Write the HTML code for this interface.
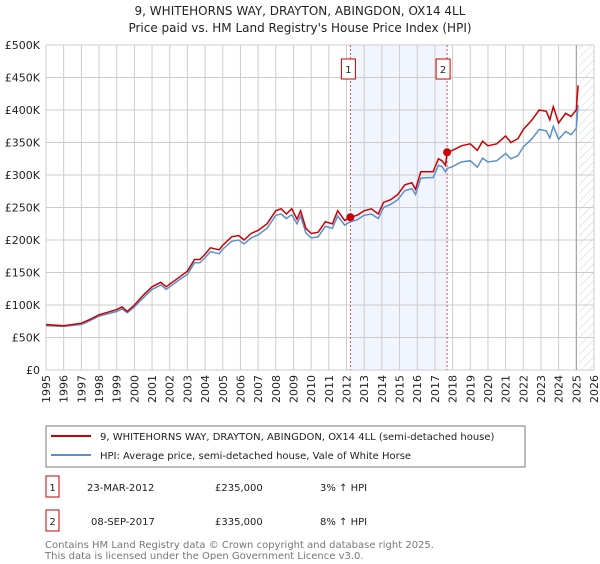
<!DOCTYPE html>
<html><head><meta charset="utf-8"><style>
body{margin:0;background:#fff;font-family:"DejaVu Sans","Liberation Sans",sans-serif;}
svg text{font-family:"DejaVu Sans","Liberation Sans",sans-serif;}
</style></head><body>
<svg id="chart" width="600" height="560" viewBox="0 0 600 560" xmlns="http://www.w3.org/2000/svg">
<defs><pattern id="hatch" width="6" height="6" patternUnits="userSpaceOnUse" patternTransform="rotate(45)"><line x1="0" y1="0" x2="0" y2="6" stroke="#bbb" stroke-width="0.7"/></pattern></defs>
<text x="300" y="15" text-anchor="middle" font-size="12" fill="#222">9, WHITEHORNS WAY, DRAYTON, ABINGDON, OX14 4LL</text>
<text x="300" y="32" text-anchor="middle" font-size="12" fill="#222">Price paid vs. HM Land Registry's House Price Index (HPI)</text>
<g id="grid"></g><g id="series"></g><g id="axes"></g>
<rect x="46" y="426" width="479" height="41" fill="#fff" stroke="#777"/>
<line x1="51" y1="436" x2="91" y2="436" stroke="#cc0000" stroke-width="2"/>
<text x="100" y="440" font-size="10" fill="#222">9, WHITEHORNS WAY, DRAYTON, ABINGDON, OX14 4LL (semi-detached house)</text>
<line x1="51" y1="455" x2="91" y2="455" stroke="#5b8fd0" stroke-width="2"/>
<text x="100" y="459" font-size="10" fill="#222">HPI: Average price, semi-detached house, Vale of White Horse</text>
<rect x="46" y="476" width="13" height="21" fill="#fff" stroke="#cc0000"/>
<text x="52.5" y="491" text-anchor="middle" font-size="10" fill="#222">1</text>
<text x="87" y="491" font-size="10" fill="#222">23-MAR-2012</text>
<text x="215" y="491" font-size="10" fill="#222">£235,000</text>
<text x="320" y="491" font-size="10" fill="#222">3% ↑ HPI</text>
<rect x="46" y="510" width="13" height="21" fill="#fff" stroke="#cc0000"/>
<text x="52.5" y="525" text-anchor="middle" font-size="10" fill="#222">2</text>
<text x="91" y="525" font-size="10" fill="#222">08-SEP-2017</text>
<text x="215" y="525" font-size="10" fill="#222">£335,000</text>
<text x="320" y="525" font-size="10" fill="#222">8% ↑ HPI</text>
<text x="45" y="548" font-size="10" fill="#777">Contains HM Land Registry data © Crown copyright and database right 2025.</text>
<text x="45" y="559" font-size="10" fill="#777">This data is licensed under the Open Government Licence v3.0.</text>
</svg>
<script>
const years=[1995,1996,1997,1997.5,1998,1999,1999.3,1999.6,2000,2000.5,2001,2001.5,2001.8,2002,2002.5,2003,2003.4,2003.7,2004,2004.3,2004.8,2005,2005.5,2005.9,2006.2,2006.6,2007,2007.5,2008,2008.3,2008.6,2008.9,2009.2,2009.4,2009.7,2010,2010.4,2010.8,2011.2,2011.5,2011.9,2012.2,2012.6,2013,2013.4,2013.8,2014.1,2014.5,2014.9,2015.3,2015.7,2015.9,2016.2,2016.6,2016.9,2017.2,2017.4,2017.6,2017.69,2018,2018.5,2019,2019.4,2019.7,2020,2020.5,2021,2021.3,2021.7,2022,2022.5,2022.9,2023.3,2023.5,2023.7,2024,2024.4,2024.7,2025,2025.1];
const propertyValues=[70,68,72,78,85,93,97,90,100,115,128,135,128,132,142,152,170,170,178,188,185,192,205,207,200,210,215,225,245,248,240,248,232,245,218,210,212,228,225,245,230,235,238,245,248,240,258,262,270,285,288,278,305,305,305,325,322,315,335,338,345,348,338,352,345,348,360,350,356,370,385,400,398,385,405,380,395,390,400,438];
const hpiValues=[68,67,70,76,83,90,94,88,97,111,124,131,124,128,138,147,165,165,173,182,179,186,198,200,194,203,208,218,238,240,233,239,225,237,211,203,205,221,218,237,223,228,231,238,240,233,250,255,262,276,279,270,295,296,296,315,313,305,310,313,320,322,312,326,320,322,333,325,330,343,356,370,368,357,375,355,367,362,372,408];
const saleYears=[2012.22,2017.69];
const salePrices=[235,335];
const saleLabels=["1","2"];
const yTicks=[0,50,100,150,200,250,300,350,400,450,500];
const xTicks=[1995,1996,1997,1998,1999,2000,2001,2002,2003,2004,2005,2006,2007,2008,2009,2010,2011,2012,2013,2014,2015,2016,2017,2018,2019,2020,2021,2022,2023,2024,2025,2026];
const X0=46,X1=594,Y0=370,Y1=45;
const xs=y=>X0+(y-1995)/(2026-1995)*(X1-X0);
const ys=v=>Y0-v/500*(Y0-Y1);
const NS="http://www.w3.org/2000/svg";
function mk(t,a,p){const e=document.createElementNS(NS,t);for(const k in a)e.setAttribute(k,a[k]);p.appendChild(e);return e;}
const grid=document.getElementById('grid'),ser=document.getElementById('series'),ax=document.getElementById('axes');
const band=mk('rect',{x:xs(saleYears[0]),y:Y1,width:xs(saleYears[1])-xs(saleYears[0]),height:Y0-Y1,fill:'#eef3fd',opacity:0.8},grid);


const hatch=mk('rect',{x:xs(2025.15),y:Y1,width:X1-xs(2025.15),height:Y0-Y1,fill:'url(#hatch)'},grid);


xTicks.forEach(t=>{const l=mk('line',{x1:xs(t),x2:xs(t),y1:Y1,y2:Y0,stroke:'#ccc','stroke-width':1},grid);


const tx=mk('text',{x:0,y:0,'font-size':11,fill:'#222','text-anchor':'end',transform:`translate(${xs(t)+4},375) rotate(-90)`},ax);tx.textContent=t;

});
yTicks.forEach(t=>{const l=mk('line',{x1:X0,x2:X1,y1:ys(t),y2:ys(t),stroke:'#ccc','stroke-width':1},grid);


const tx=mk('text',{x:40,y:ys(t)+4,'font-size':11,fill:'#222','text-anchor':'end'},ax);tx.textContent=t===0?'£0':'£'+t+'K';

});
const ln=mk('line',{x1:xs(2025),x2:xs(2025),y1:Y1,y2:Y0,stroke:'#999','stroke-width':1},grid);


saleYears.forEach((s,i)=>{const l=mk('line',{x1:xs(s),x2:xs(s),y1:Y1,y2:Y0,stroke:'#e05050','stroke-width':1,'stroke-dasharray':'2,2'},grid);


const r=mk('rect',{x:xs(s)-16+i*0,y:59,width:14,height:20,fill:'#fff',stroke:'#cc0000'},ax);
r.setAttribute('x',xs(s)-(i===0?9:11));


const tx=mk('text',{x:+r.getAttribute('x')+7,y:73,'font-size':10,fill:'#222','text-anchor':'middle'},ax);tx.textContent=saleLabels[i];

});
const path=v=>v.map((d,i)=>(i?'L':'M')+xs(years[i]).toFixed(1)+','+ys(d).toFixed(1)).join('');
const h=mk('path',{d:path(hpiValues),fill:'none',stroke:'#5b8fd0','stroke-width':1.5},ser);


const p=mk('path',{d:path(propertyValues),fill:'none',stroke:'#cc0000','stroke-width':1.5},ser);


saleYears.forEach((s,i)=>{const c=mk('circle',{cx:xs(s),cy:ys(salePrices[i]),r:4,fill:'#cc0000'},ser);

});
</script>
</body></html>
